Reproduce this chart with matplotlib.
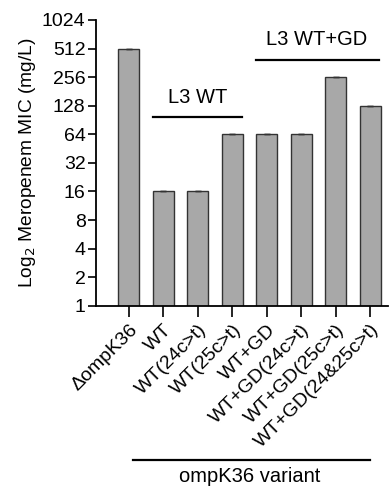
import numpy as np
import matplotlib
import matplotlib.pyplot as plt
import matplotlib.transforms as mtransforms
matplotlib.use('Agg')

plt.rcParams['font.family'] = ['Liberation Sans', 'DejaVu Sans']

variants = ['ΔompK36', 'WT', 'WT(24c>t)', 'WT(25c>t)', 'WT+GD',
            'WT+GD(24c>t)', 'WT+GD(25c>t)', 'WT+GD(24&25c>t)']
mic = [512, 16, 16, 64, 64, 64, 256, 128]
yticks = [1, 2, 4, 8, 16, 32, 64, 128, 256, 512, 1024]

fig = plt.figure(figsize=(3.9, 4.87), dpi=100)
ax = fig.add_axes([0.246, 0.372, 0.749, 0.587])

x = np.arange(len(variants))
ax.bar(x, mic, width=0.61, bottom=0, color='#a8a8a8', edgecolor='#333333',
       linewidth=1.0, zorder=2)
ax.errorbar(x, mic, yerr=0, fmt='none', ecolor='#333333', capsize=2.5,
            elinewidth=0.8, zorder=3)

ax.set_yscale('log', base=2)
ax.set_ylim(1, 1024)
ax.set_xlim(-0.957, 7.52)
ax.set_yticks(yticks)
ax.set_yticklabels([str(v) for v in yticks])
ax.minorticks_off()
ax.set_xticks(x)
ax.set_xticklabels(variants, rotation=45, ha='right', va='top',
                   rotation_mode='anchor')
ax.tick_params(axis='both', labelsize=14, width=1.2, direction='out')
ax.tick_params(axis='y', length=5.5, pad=2)
ax.tick_params(axis='x', length=8, pad=3)

for s in ['top', 'right']:
    ax.spines[s].set_visible(False)
for s in ['left', 'bottom']:
    ax.spines[s].set_linewidth(1.3)

ax.set_ylabel('Log$_2$ Meropenem MIC (mg/L)', fontsize=13.8, labelpad=3)

# group annotations
trans = mtransforms.blended_transform_factory(ax.transData, ax.transAxes)
ax.plot([0.70, 3.28], [0.661, 0.661], color='black', lw=1.6,
        transform=trans, clip_on=False)
ax.text(1.99, 0.73, 'L3 WT', ha='center', va='center', fontsize=14.5,
        transform=trans)
ax.plot([3.68, 7.25], [0.86, 0.86], color='black', lw=1.6,
        transform=trans, clip_on=False)
ax.text(5.46, 0.93, 'L3 WT+GD', ha='center', va='center', fontsize=14.5,
        transform=trans)

ax.plot([0.12, 7.0], [-0.538, -0.538], color='black', lw=1.6,
        transform=trans, clip_on=False)
ax.text(3.5, -0.598, 'ompK36 variant', ha='center', va='center', fontsize=14.5,
        transform=trans)

fig.savefig('out.png', dpi=100)
